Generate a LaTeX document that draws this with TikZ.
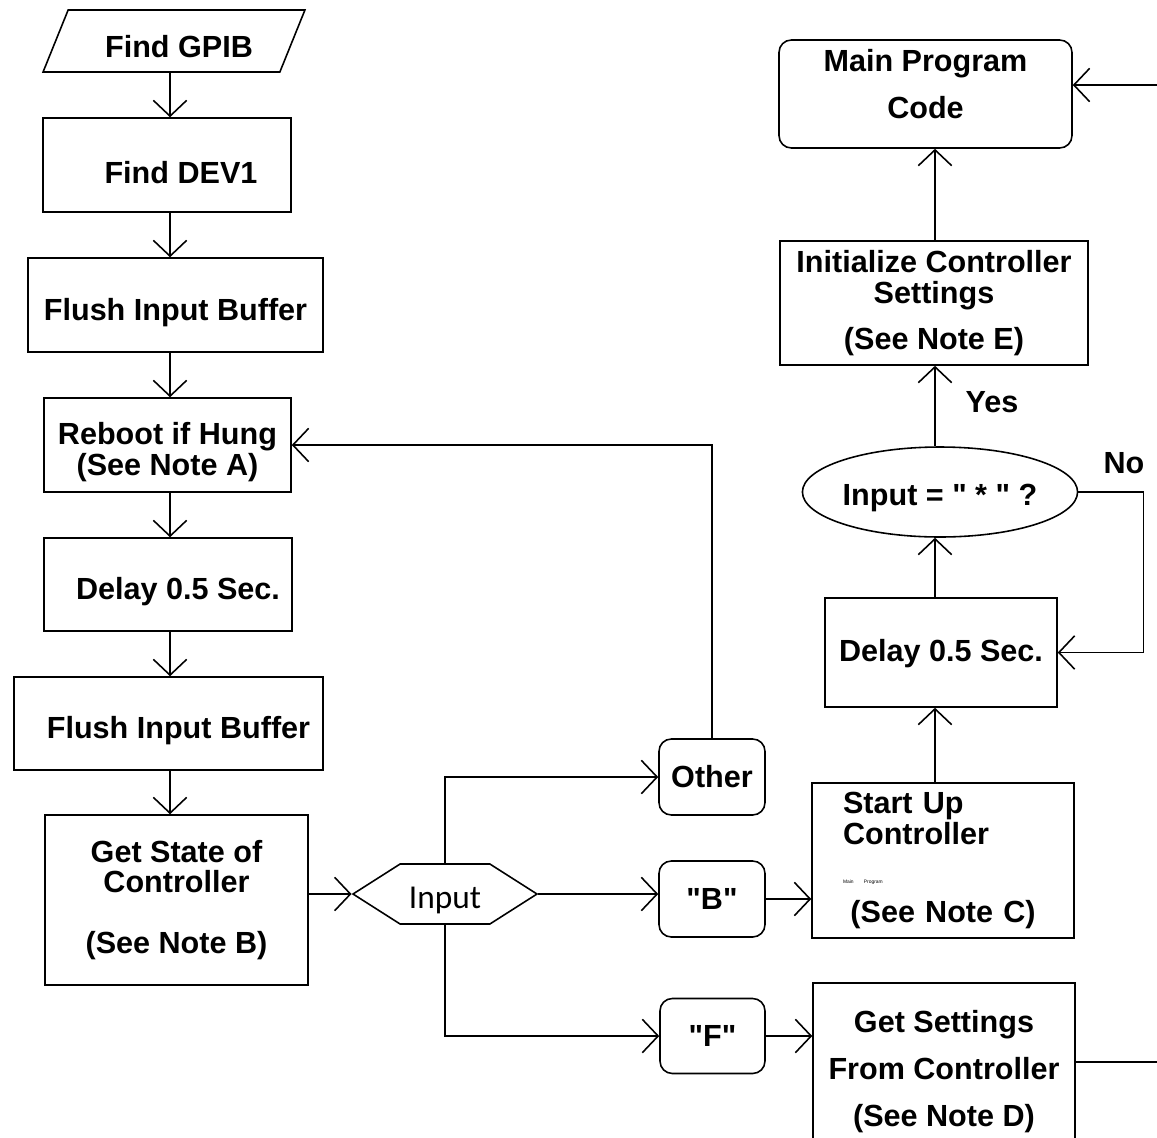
\documentclass[tikz,border=0pt]{standalone}
\usepackage{fontspec}
\setmainfont{Liberation Sans}[Ligatures=TeXOff]
\newfontfamily\inputfont{Carlito}
\usetikzlibrary{arrows.meta,shapes.geometric,shapes.symbols}

\newcommand{\topgap}[1][21pt]{\rule{0pt}{#1}}

\tikzset{
  box/.style={draw, line width=0.9pt, align=center, inner sep=2pt},
  rbox/.style={box, rounded corners=7pt},
  flow/.style={line width=0.9pt, -{Straight Barb[length=9pt,width=19pt]}},
  link/.style={line width=0.9pt},
}

\begin{document}
\begin{tikzpicture}[x=0.02cm, y=-0.02cm, font=\fontsize{17.4}{17.6}\selectfont\bfseries]
    \useasboundingbox (0,0) rectangle (1157,1137);
    % left column
    \node[trapezium, trapezium left angle=61, trapezium right angle=119, trapezium stretches=true,
          draw, line width=0.9pt, minimum width=5.24cm, minimum height=1.24cm, inner sep=0pt]
          (gpib) at (174,41) {\topgap[19pt]\hspace*{0.2cm}Find GPIB};
    \node[box, minimum width=4.96cm, minimum height=1.88cm] (dev) at (167,165) {\topgap\hspace*{0.56cm}Find DEV1};
    \node[box, minimum width=5.9cm, minimum height=1.88cm] (flush1) at (175.5,305) {\topgap Flush Input Buffer};
    \node[box, minimum width=4.94cm, minimum height=1.88cm] (reboot) at (167.5,445) {\topgap Reboot if Hung\\(See Note A)};
    \node[box, minimum width=4.96cm, minimum height=1.86cm] (delay1) at (168,584.5) {\topgap\hspace*{0.4cm}Delay 0.5 Sec.};
    \node[box, minimum width=6.18cm, minimum height=1.86cm] (flush2) at (168.5,723.5) {\topgap\hspace*{0.4cm}Flush Input Buffer};
    \node[box, minimum width=5.26cm, minimum height=3.4cm] (state) at (176.5,900) {Get State of\\Controller\\[17pt](See Note B)};

    % branch on input
    \node[signal, signal to=east and west, signal pointer angle=65,
          draw, line width=0.9pt, minimum width=3.68cm, minimum height=1.2cm, inner sep=0pt,
          font=\inputfont\fontsize{19}{20}\selectfont] (input) at (445,894) {\topgap[19pt]Input};
    \node[rbox, minimum width=2.12cm, minimum height=1.52cm] (other) at (712,777) {Other};
    \node[rbox, minimum width=2.12cm, minimum height=1.52cm] (optB) at (712,899) {"B"};
    \node[rbox, minimum width=2.1cm, minimum height=1.5cm] (optF) at (712.5,1036) {"F"};

    % right column
    \node[box, align=left, text width=4.0cm, minimum width=5.24cm, minimum height=3.1cm, inner xsep=0.62cm]
          (startup) at (943,860.5) {Start Up\\Controller\\[4.5pt]{\fontsize{2.8}{3}\selectfont\mdseries Main Program}\\[4.5pt]\makebox[\linewidth]{(See Note C)}};
    \node[box, minimum width=5.24cm, minimum height=3.32cm] (getset) at (944,1066) {\topgap[19pt]Get Settings\\[9pt]From Controller\\[9pt](See Note D)};
    \node[box, minimum width=4.64cm, minimum height=2.18cm] (delay2) at (941,652.5) {\topgap[14pt]Delay 0.5 Sec.};
    \node[ellipse, draw, line width=0.9pt, minimum width=5.2cm, minimum height=1.8cm, inner sep=0pt] (check) at (940,492) {\topgap[19pt]Input = " * " ?};
    \node[box, minimum width=6.16cm, minimum height=2.48cm] (init) at (934,303) {Initialize Controller\\Settings\\[9pt](See Note E)};
    \node[rbox, minimum width=5.86cm, minimum height=2.16cm] (mainprog) at (925.5,94) {Main Program\\[9pt]Code\\[-6pt]\mbox{}};

    \node (yes) at (992,402) {Yes};
    \node (no) at (1124,463) {No};

    % connectors
    \coordinate (lcol) at (170,0);
    \coordinate (rcol) at (935,0);
    \coordinate (offA) at (1157,1062);
    \coordinate (offB) at (1157,85);

    \foreach \a/\b in {gpib/dev, dev/flush1, flush1/reboot, reboot/delay1, delay1/flush2, flush2/state}
    \draw[flow] (\a.south -| lcol) -- (\b.north -| lcol);

    \foreach \a/\b in {startup/delay2, delay2/check, check/init, init/mainprog}
    \draw[flow] (\a.north -| rcol) -- (\b.south -| rcol);

    \draw[flow] (state.east |- input.west) -- (input.west);
    \draw[flow] (input.north) |- (other.west);
    \draw[flow] (input.east) -- (input.east -| optB.west);
    \draw[flow] (input.south) |- (optF.west);
    \draw[flow] (other.north) |- (reboot.east);
    \draw[flow] (optB.east) -- (optB.east -| startup.west);
    \draw[flow] (optF.east) -- (optF.east -| getset.west);
    \draw[flow] (check.east) -- ++(65,0) |- (delay2.east);
    \draw[link] (getset.east |- offA) -- (offA);
    \draw[flow] (offB) -- (offB -| mainprog.east);
\end{tikzpicture}
\end{document}
